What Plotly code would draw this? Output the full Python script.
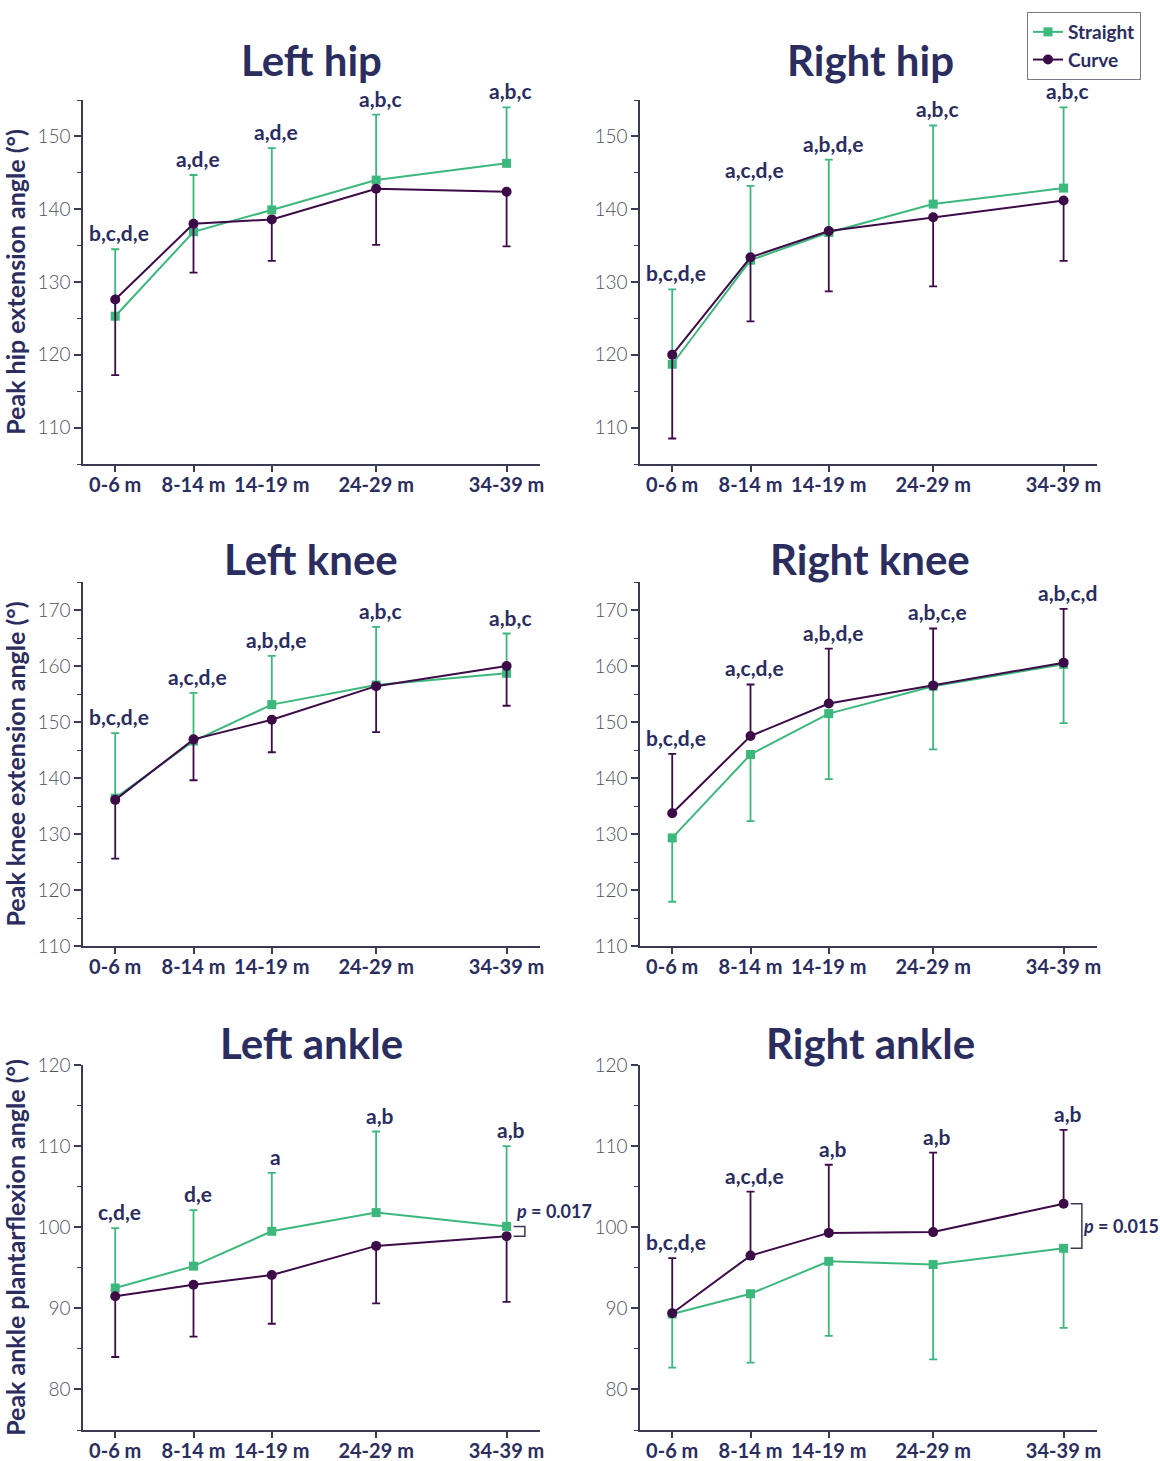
import plotly.graph_objects as go

# ---------------- data ----------------
categories = ["0-6 m", "8-14 m", "14-19 m", "24-29 m", "34-39 m"]
category_pos = [0, 3, 6, 10, 15]

left_hip_straight = [125.3, 136.9, 139.9, 144.0, 146.3]
left_hip_straight_sd = [9.2, 7.8, 8.5, 9.0, 7.7]
left_hip_curve = [127.6, 138.0, 138.6, 142.8, 142.4]
left_hip_curve_sd = [10.4, 6.7, 5.7, 7.7, 7.5]
left_hip_letters = ["b,c,d,e", "a,d,e", "a,d,e", "a,b,c", "a,b,c"]

right_hip_straight = [118.7, 133.0, 136.8, 140.7, 142.9]
right_hip_straight_sd = [10.3, 10.2, 10.0, 10.8, 11.1]
right_hip_curve = [120.0, 133.4, 137.0, 138.9, 141.2]
right_hip_curve_sd = [11.5, 8.8, 8.3, 9.5, 8.3]
right_hip_letters = ["b,c,d,e", "a,c,d,e", "a,b,d,e", "a,b,c", "a,b,c"]

left_knee_straight = [136.4, 146.6, 153.1, 156.6, 158.7]
left_knee_straight_sd = [11.6, 8.6, 8.7, 10.4, 7.1]
left_knee_curve = [136.1, 146.9, 150.4, 156.4, 160.0]
left_knee_curve_sd = [10.5, 7.3, 5.8, 8.2, 7.1]
left_knee_letters = ["b,c,d,e", "a,c,d,e", "a,b,d,e", "a,b,c", "a,b,c"]

right_knee_straight = [129.3, 144.2, 151.5, 156.4, 160.3]
right_knee_straight_sd = [11.4, 11.9, 11.7, 11.3, 10.5]
right_knee_curve = [133.7, 147.5, 153.3, 156.5, 160.6]
right_knee_curve_sd = [10.6, 9.2, 9.8, 10.2, 9.6]
right_knee_letters = ["b,c,d,e", "a,c,d,e", "a,b,d,e", "a,b,c,e", "a,b,c,d"]

left_ankle_straight = [92.5, 95.2, 99.5, 101.8, 100.1]
left_ankle_straight_sd = [7.4, 6.9, 7.2, 10.0, 9.9]
left_ankle_curve = [91.5, 92.9, 94.1, 97.7, 98.9]
left_ankle_curve_sd = [7.5, 6.4, 6.0, 7.1, 8.1]
left_ankle_letters = ["c,d,e", "d,e", "a", "a,b", "a,b"]
left_ankle_p = "<i>p</i> = 0.017"

right_ankle_straight = [89.3, 91.8, 95.8, 95.4, 97.4]
right_ankle_straight_sd = [6.6, 8.5, 9.2, 11.7, 9.8]
right_ankle_curve = [89.4, 96.5, 99.3, 99.4, 102.9]
right_ankle_curve_sd = [6.8, 7.9, 8.4, 9.8, 9.1]
right_ankle_letters = ["b,c,d,e", "a,c,d,e", "a,b", "a,b", "a,b"]
right_ankle_p = "<i>p</i> = 0.015"

titles = ["Left hip", "Right hip", "Left knee", "Right knee", "Left ankle", "Right ankle"]
y_titles = ["Peak hip extension angle (°)", "Peak knee extension angle (°)",
            "Peak ankle plantarflexion angle (°)"]

# ---------------- style ----------------
GREEN = "#3cb87c"
PURPLE = "#3d0b48"
NAVY = "#2b2d5f"
AXIS = "#3a3a55"
TICKC = "#50505f"
FONT = "Lato, 'Open Sans', sans-serif"
W, H = 1160, 1461

panels = [
    dict(s=left_hip_straight, ssd=left_hip_straight_sd, c=left_hip_curve, csd=left_hip_curve_sd,
         letters=left_hip_letters, up="s", yr=[105, 155], col=0, row=0),
    dict(s=right_hip_straight, ssd=right_hip_straight_sd, c=right_hip_curve, csd=right_hip_curve_sd,
         letters=right_hip_letters, up="s", yr=[105, 155], col=1, row=0),
    dict(s=left_knee_straight, ssd=left_knee_straight_sd, c=left_knee_curve, csd=left_knee_curve_sd,
         letters=left_knee_letters, up="s", yr=[110, 175], col=0, row=1),
    dict(s=right_knee_straight, ssd=right_knee_straight_sd, c=right_knee_curve, csd=right_knee_curve_sd,
         letters=right_knee_letters, up="c", yr=[110, 175], col=1, row=1),
    dict(s=left_ankle_straight, ssd=left_ankle_straight_sd, c=left_ankle_curve, csd=left_ankle_curve_sd,
         letters=left_ankle_letters, up="s", yr=[75, 120], col=0, row=2, p=left_ankle_p),
    dict(s=right_ankle_straight, ssd=right_ankle_straight_sd, c=right_ankle_curve, csd=right_ankle_curve_sd,
         letters=right_ankle_letters, up="c", yr=[75, 120], col=1, row=2, p=right_ankle_p),
]

# pixel layout
col_px = [(83, 540), (640, 1097)]
row_px = [(100, 464), (582, 946), (1065, 1430)]
title_y_px = [60, 559, 1043]
title_x_px = [311, 870]

fig = go.Figure()
annotations = []
shapes = []
layout = {}

for i, p in enumerate(panels):
    n = i + 1
    xa = "x" if n == 1 else f"x{n}"
    ya = "y" if n == 1 else f"y{n}"
    x0, x1 = col_px[p["col"]]
    y0, y1 = row_px[p["row"]]
    zeros = [0] * len(categories)

    for key, name, color, sym, size in [("s", "Straight", GREEN, "square", 9),
                                          ("c", "Curve", PURPLE, "circle", 10)]:
        vals = p[key]
        sd = p[key + "sd"]
        if p["up"] == key:
            arr, arrm = sd, zeros
        else:
            arr, arrm = zeros, sd
        fig.add_trace(go.Scatter(
            x=category_pos, y=vals, mode="lines+markers", name=name,
            legendgroup=name, showlegend=(n == 1),
            line=dict(color=color, width=2),
            marker=dict(color=color, symbol=sym, size=size),
            error_y=dict(type="data", symmetric=False, array=arr, arrayminus=arrm,
                         color=color, thickness=1.8, width=4),
            xaxis=xa, yaxis=ya,
        ))

    # letters above the highest upper bar
    for j, lab in enumerate(p["letters"]):
        tops = []
        for key in ("s", "c"):
            tops.append(p[key][j] + (p[key + "sd"][j] if p["up"] == key else 0))
        annotations.append(dict(
            x=category_pos[j], y=max(tops), xref=xa, yref=ya, text=f"<b>{lab}</b>",
            showarrow=False, yanchor="bottom", xanchor="center", xshift=4, yshift=2,
            font=dict(family=FONT, size=21, color=NAVY)))

    # p-value bracket
    if "p" in p:
        a, b = p["s"][-1], p["c"][-1]
        xe = category_pos[-1]
        bx0, bx1 = xe + 0.27, xe + 0.7
        shapes.append(dict(type="path", xref=xa, yref=ya,
                           path=f"M {bx0},{a} L {bx1},{a} L {bx1},{b} L {bx0},{b}",
                           line=dict(color=AXIS, width=1.5)))
        if p["col"] == 0:
            annotations.append(dict(x=bx0, y=max(a, b), xref=xa, yref=ya, text=f"<b>{p['p']}</b>",
                                    showarrow=False, xanchor="left", yanchor="bottom", yshift=2, xshift=0,
                                    font=dict(family=FONT, size=18, color=NAVY)))
        else:
            annotations.append(dict(x=bx1, y=(a + b) / 2, xref=xa, yref=ya, text=f"<b>{p['p']}</b>",
                                    showarrow=False, xanchor="left", yanchor="middle", xshift=-1,
                                    font=dict(family=FONT, size=18, color=NAVY)))

    # title
    annotations.append(dict(x=title_x_px[p["col"]] / W, y=1 - title_y_px[p["row"]] / H,
                            xref="paper", yref="paper", text=f"<b>{titles[i]}</b>",
                            showarrow=False, xanchor="center", yanchor="middle",
                            font=dict(family=FONT, size=42, color=NAVY)))

    xkey = "xaxis" if n == 1 else f"xaxis{n}"
    ykey = "yaxis" if n == 1 else f"yaxis{n}"
    layout[xkey] = dict(
        domain=[x0 / W, x1 / W], anchor=ya, range=[-1.235, 16.28], automargin=False,
        tickmode="array", tickvals=category_pos, ticktext=categories,
        showline=True, linecolor=AXIS, linewidth=1.5, showgrid=False, zeroline=False,
        ticks="outside", ticklen=6, tickwidth=1.5, tickcolor=AXIS, ticklabelstandoff=-4,
        tickfont=dict(family=FONT, size=20, color=NAVY, weight="bold"),
    )
    ydict = dict(
        domain=[1 - y1 / H, 1 - y0 / H], anchor=xa, range=p["yr"], automargin=False,
        tickmode="linear", tick0=0, dtick=10,
        showline=True, linecolor=AXIS, linewidth=1.5, showgrid=False, zeroline=False,
        ticks="outside", ticklen=7, tickwidth=1.5, tickcolor=AXIS,
        minor=dict(dtick=5, tick0=0, ticks="outside", ticklen=4, tickwidth=1.2, tickcolor=AXIS),
        tickfont=dict(family=FONT, size=19, color=TICKC, weight=300),
    )
    if p["col"] == 0:
        ydict["title"] = dict(text=y_titles[p["row"]], standoff=6,
                              font=dict(family=FONT, size=25, color=NAVY, weight="bold"))
    layout[ykey] = ydict

fig.update_layout(
    width=W, height=H, margin=dict(l=0, r=0, t=0, b=0, autoexpand=False),
    paper_bgcolor="white", plot_bgcolor="white",
    annotations=annotations, shapes=shapes,
    legend=dict(x=1141 / W, y=1 - 12 / H, xanchor="right", yanchor="top",
                bordercolor="#7a7a86", borderwidth=1, bgcolor="white",
                font=dict(family=FONT, size=19, color=NAVY, weight="bold"),
                tracegroupgap=0, itemwidth=30),
    **layout,
)

fig.write_html("out.html", config={"displayModeBar": False},
               post_script="document.body.style.margin='0';document.body.style.padding='0';")
